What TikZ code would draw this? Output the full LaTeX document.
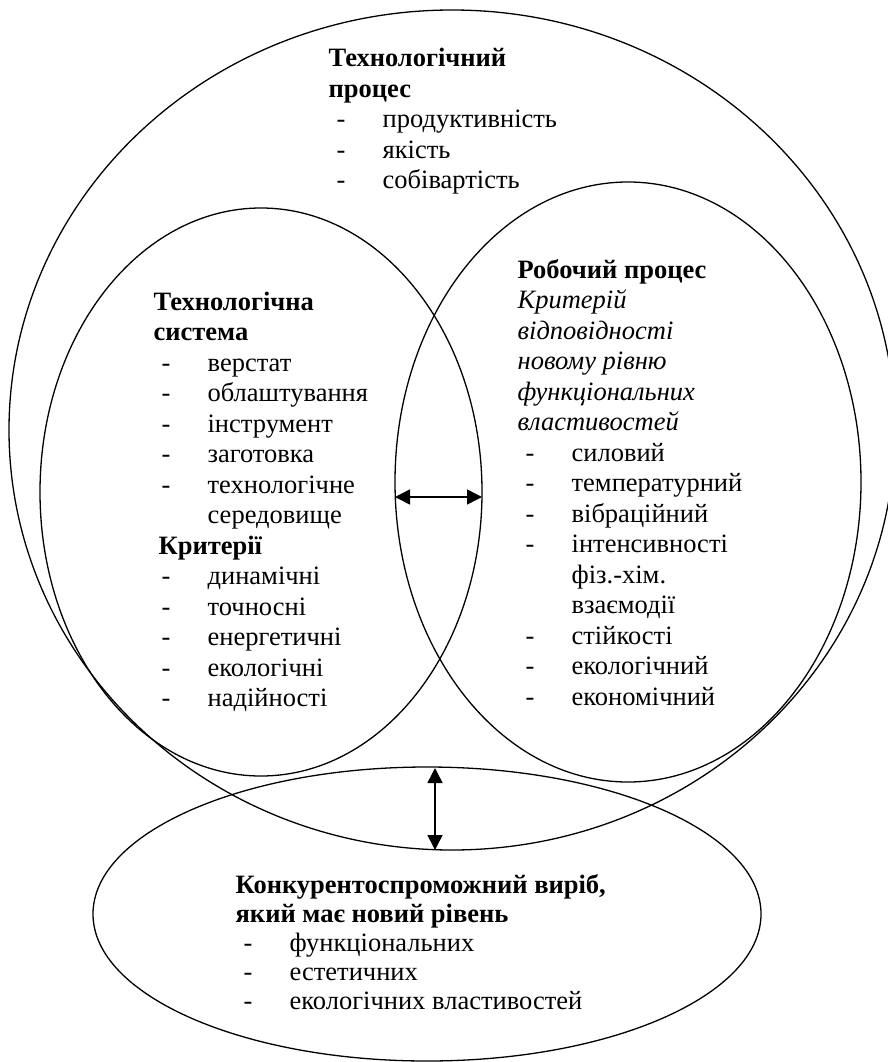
\documentclass[tikz,border=0pt]{standalone}
\usepackage{fontspec}
\setmainfont{Liberation Serif}
\usetikzlibrary{arrows.meta}
\newcommand{\itm}[1]{\makebox[54pt][l]{\hspace*{8pt}-}#1}
\newcommand{\cnt}[1]{\hspace*{54pt}#1}

\begin{document}
\begin{tikzpicture}[x=1pt, y=-1pt, line width=1.3pt,
    every node/.style={font=\fontsize{26.5}{30.5}\selectfont, inner sep=0pt, align=left, anchor=base west},
    dblarrow/.style={{Triangle[length=15pt,width=15pt]}-{Triangle[length=15pt,width=15pt]}, line width=1.5pt}]
  \clip (0,0) rectangle (888,1062);
  % circles
  \draw (452,430) ellipse [x radius=443, y radius=420];
  \draw (261,492) ellipse [x radius=221, y radius=284];
  \draw (628,482) ellipse [x radius=233, y radius=300];
  \draw (427,914) ellipse [x radius=334, y radius=147];
  % texts (anchored at the baseline of the last line)
  \node (proces) at (328,188.5) {\textbf{Технологічний}\\ \textbf{процес}\\
    \itm{продуктивність}\\ \itm{якість}\\ \itm{собівартість}};
  \node (sistema) at (153,706.5) {\textbf{Технологічна}\\ \textbf{система}\\
    \itm{верстат}\\ \itm{облаштування}\\ \itm{інструмент}\\ \itm{заготовка}\\
    \itm{технологічне}\\ \cnt{середовище}\\ \hspace*{5pt}\textbf{Критерії}\\
    \itm{динамічні}\\ \itm{точносні}\\ \itm{енергетичні}\\ \itm{екологічні}\\ \itm{надійності}};
  \node (robochyi) at (517,705) {\textbf{Робочий процес}\\ \textit{Критерій}\\
    \textit{відповідності}\\ \textit{новому рівню}\\ \textit{функціональних}\\
    \textit{властивостей}\\ \itm{силовий}\\ \itm{температурний}\\ \itm{вібраційний}\\
    \itm{інтенсивності}\\ \cnt{фіз.-хім.}\\ \cnt{взаємодії}\\ \itm{стійкості}\\
    \itm{екологічний}\\ \itm{економічний}};
  \node[font=\fontsize{26.5}{29}\selectfont] (vyrib) at (235,1009) {\textbf{Конкурентоспроможний виріб,}\\
    \textbf{який має новий рівень}\\ \itm{функціональних}\\ \itm{естетичних}\\
    \itm{екологічних властивостей}};
  % arrows
  \coordinate (robochyi-w) at (395,497);
  \coordinate (sistema-e) at (482,497);
  \coordinate (vyrib-n) at (435,768);
  \coordinate (proces-s) at (435,850);
  \draw[dblarrow] (robochyi-w) -- (sistema-e);
  \draw[dblarrow] (vyrib-n) -- (proces-s);
\end{tikzpicture}
\end{document}
